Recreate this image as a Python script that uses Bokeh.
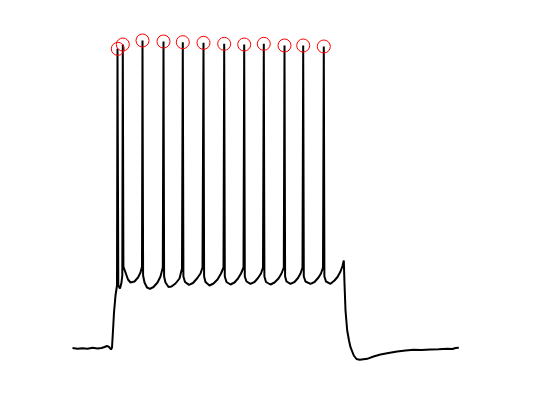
from bokeh.plotting import figure
from bokeh.embed import file_html
from bokeh.resources import INLINE

# Membrane potential trace (time in ms, voltage in mV)
time_ms = [
    -2, 8, 18, 28, 38, 48, 56, 62, 67, 71, 75,
    77, 79, 81, 84, 87,
    88, 89.6, 93, 96, 97.6,
    98.6, 99.8, 104, 109, 114, 122, 129, 134, 137,
    138, 139.2, 142, 147, 153, 160, 168, 174, 178.6,
    180, 181.2, 184, 190, 196, 204, 212, 217,
    218.6, 219.8, 223, 231, 239, 247, 254, 258,
    260, 261.2, 264, 272, 280, 288, 295, 300,
    301.4, 302.6, 306, 314, 322, 329, 335, 340,
    341.4, 342.6, 346, 354, 362, 369, 375, 379,
    380.6, 381.8, 385, 394, 402, 410, 416, 420.6,
    422, 423.2, 426, 434, 442, 449, 454, 458,
    459.4, 460.6, 464, 474, 482, 490, 495, 499,
    500.6, 501.8, 505, 514, 522, 528, 534, 538, 540.6,
    542, 544, 547.4, 551, 554, 560.6, 566, 572.6, 587.4, 600, 614, 630,
    647.4, 664, 680.6, 696, 714, 730, 747.4, 758, 764, 770.6,
]
voltage_mv = [
    -69.85, -70.1, -69.9, -70.05, -69.8, -70, -69.85, -69.55, -69.25, -69.5, -70.3,
    -69.7, -64.6, -59.2, -54.1, -51.1,
    19.9, -51.1, -52.0, -50.2, -48.1,
    21.2, -45.4, -47.2, -49.3, -50.2, -49.9, -48.7, -47.2, -45.4,
    22.4, -48.1, -50.2, -51.7, -52.1, -51.55, -50.2, -48.4, -45.7,
    22.1, -48.4, -50.2, -51.55, -51.4, -50.5, -49.0, -46.0,
    21.9, -48.4, -50.05, -50.9, -50.35, -49.0, -47.5, -45.7,
    21.7, -48.4, -50.05, -51.1, -50.5, -49.3, -47.5, -45.7,
    21.4, -48.4, -50.05, -50.8, -50.2, -49.0, -47.5, -45.7,
    21.2, -48.4, -49.9, -50.6, -50.05, -48.85, -47.5, -45.7,
    21.4, -48.4, -50.05, -50.8, -50.2, -49.0, -47.5, -45.7,
    20.9, -48.4, -49.9, -50.6, -50.05, -48.85, -47.5, -45.7,
    20.9, -48.4, -49.9, -50.6, -50.05, -48.7, -47.5, -45.7,
    20.6, -48.4, -49.9, -50.6, -49.6, -48.55, -46.9, -45.25, -43.6,
    -50.5, -58.6, -64.6, -67.6, -69.6, -72.1, -73.15, -73.4, -73.1, -72.4, -71.8, -71.35,
    -70.9, -70.6, -70.4, -70.45, -70.3, -70.25, -70.1, -70.15, -69.85, -69.8,
]

# Detected spike peaks
spike_t = [88.6, 98.6, 138, 180, 218.6, 260, 301.4, 341.4, 380.6, 422, 459.4, 500.6]
spike_v = [19.9, 21.2, 22.4, 22.1, 21.9, 21.7, 21.4, 21.2, 21.4, 20.9, 20.9, 20.6]

p = figure(width=540, height=400, x_range=(-146, 934), y_range=(-85.6, 34.4),
           output_backend="svg", toolbar_location=None, min_border=0)
p.axis.visible = False
p.grid.visible = False
p.outline_line_color = None

p.line(time_ms, voltage_mv, line_color="black", line_width=2)
p.scatter(spike_t, spike_v, marker="circle", size=13, fill_color=None,
          line_color="red", line_width=1)

open("out.html", "w").write(file_html(p, INLINE))
